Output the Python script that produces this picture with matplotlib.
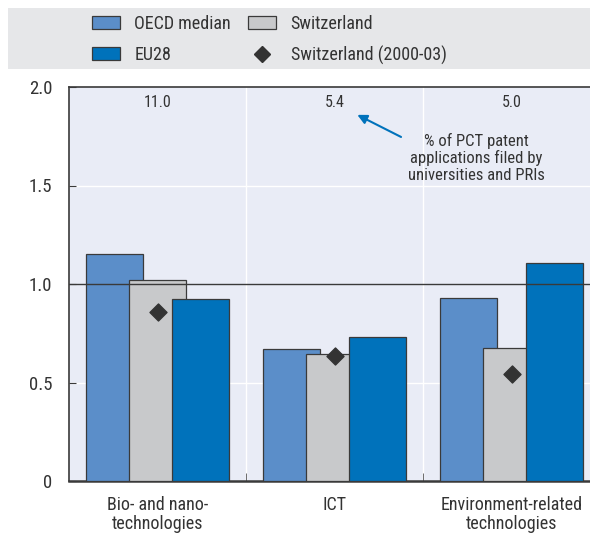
import matplotlib.pyplot as plt
import matplotlib.font_manager as fm
from matplotlib.patches import Rectangle, Patch
from matplotlib.lines import Line2D
import numpy as np

# condensed sans similar to the OECD house font
names = {f.name for f in fm.fontManager.ttflist}
font = 'Roboto'
for cand in ['Roboto Condensed', 'Archivo Narrow', 'PT Sans Narrow', 'Liberation Sans Narrow']:
    if cand in names:
        font = cand
        break
plt.rcParams['font.family'] = [font, 'DejaVu Sans']

categories = ['Bio- and nano-\ntechnologies', 'ICT', 'Environment-related\ntechnologies']
oecd_median = [1.15, 0.67, 0.93]
switzerland = [1.02, 0.645, 0.675]
eu28 = [0.925, 0.73, 1.105]
switzerland_0003 = [0.86, 0.635, 0.545]
pct_univ = ['11.0', '5.4', '5.0']

c_oecd = '#5b8ec9'
c_ch = '#c8c9cb'
c_eu = '#0072bb'
txt = '#333333'
edge = '#3a3a3a'

fig = plt.figure(figsize=(5.9, 5.36), dpi=100)
# grey band behind the legend
fig.patches.append(Rectangle((8 / 590, 1 - 69 / 536), 1, 61 / 536, transform=fig.transFigure,
                             facecolor='#e6e7e9', edgecolor='none', zorder=0))

ax = fig.add_axes([69 / 590, 55 / 536, 531 / 590, 394 / 536])
ax.set_facecolor('#e9ecf6')

x = np.arange(len(categories))
w = 0.322
off = 0.243
ax.bar(x - off, oecd_median, w, color=c_oecd, edgecolor=edge, linewidth=0.9, zorder=3)
ax.bar(x, switzerland, w, color=c_ch, edgecolor=edge, linewidth=0.9, zorder=4)
ax.bar(x + off, eu28, w, color=c_eu, edgecolor=edge, linewidth=0.9, zorder=5)
ax.scatter(x, switzerland_0003, marker='D', s=75, color='#333333', zorder=6)

ax.axhline(1.0, color=edge, linewidth=1.0, zorder=7)
for yv in [0.5, 1.5]:
    ax.axhline(yv, color='white', linewidth=1.0, zorder=1)
for xv in [0.5, 1.5]:
    ax.axvline(xv, color='white', linewidth=1.0, zorder=1)

for i, t in enumerate(pct_univ):
    ax.text(x[i], 1.92, t, ha='center', va='center', fontsize=11.5, color=txt)

ax.annotate('', xy=(1.115, 1.865), xytext=(1.39, 1.74),
            arrowprops=dict(arrowstyle='-|>', color=c_eu, lw=1.5, mutation_scale=14))
ax.text(1.8, 1.64, '% of PCT patent\napplications filed by\nuniversities and PRIs',
        ha='center', va='center', fontsize=12, color=txt, linespacing=1.1)

ax.set_xlim(-0.5, 2.5)
ax.set_ylim(0, 2.0)
ax.set_yticks([0, 0.5, 1.0, 1.5, 2.0])
ax.set_yticklabels(['0', '0.5', '1.0', '1.5', '2.0'])
ax.set_xticks(x)
ax.set_xticklabels(categories, linespacing=1.05)
ax.set_xticks([0.5, 1.5], minor=True)
ax.tick_params(axis='y', direction='in', length=5, color=edge, pad=12, labelsize=13.5, labelcolor=txt)
ax.tick_params(axis='x', which='major', length=0, pad=11, labelsize=13, labelcolor=txt)
ax.tick_params(axis='x', which='minor', direction='in', length=6, color='#555555')
for s in ['left', 'top', 'bottom']:
    ax.spines[s].set_color(edge)
ax.spines['left'].set_linewidth(1.2)
ax.spines['top'].set_linewidth(1.2)
ax.spines['bottom'].set_linewidth(1.8)
ax.spines['right'].set_visible(False)

handles = [Patch(facecolor=c_oecd, edgecolor=edge, linewidth=0.9),
           Patch(facecolor=c_eu, edgecolor=edge, linewidth=0.9),
           Patch(facecolor=c_ch, edgecolor=edge, linewidth=0.9),
           Line2D([], [], marker='D', color='#333333', linestyle='none', markersize=8.5)]
labels = ['OECD median', 'EU28', 'Switzerland', 'Switzerland (2000-03)']
fig.legend(handles, labels, ncol=2, loc='center left', bbox_to_anchor=(92 / 590, 1 - 40 / 536),
           frameon=False, fontsize=13, handlelength=1.55, handleheight=0.75,
           borderpad=0, borderaxespad=0, columnspacing=0.95, labelspacing=0.7,
           handletextpad=0.8, labelcolor=txt)

fig.savefig('out.png', dpi=100)
